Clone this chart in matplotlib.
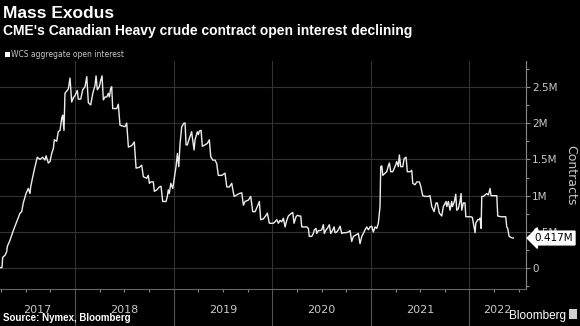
import matplotlib
matplotlib.use("Agg")
import matplotlib.pyplot as plt
import matplotlib.transforms as mtransforms
from matplotlib.patches import Rectangle
from matplotlib.ticker import FixedLocator, FuncFormatter

# Data: WCS aggregate open interest (millions of contracts), time in decimal years
years = [
    2017.239, 2017.259, 2017.266, 2017.290, 2017.307, 2017.313, 2017.341, 2017.374, 2017.408, 2017.442,
    2017.459, 2017.475, 2017.503, 2017.526, 2017.543, 2017.550, 2017.571, 2017.594, 2017.617, 2017.645,
    2017.672, 2017.695, 2017.706, 2017.729, 2017.746, 2017.763, 2017.780, 2017.790, 2017.814, 2017.830,
    2017.848, 2017.865, 2017.875, 2017.888, 2017.898, 2017.915, 2017.932, 2017.949, 2017.966, 2017.983,
    2018.000, 2018.023, 2018.033, 2018.058, 2018.078, 2018.101, 2018.119, 2018.135, 2018.159,
    2018.180, 2018.203, 2018.213, 2018.226, 2018.246, 2018.261, 2018.274, 2018.287, 2018.304, 2018.322,
    2018.338, 2018.348, 2018.362, 2018.372, 2018.382, 2018.423, 2018.439, 2018.456, 2018.507, 2018.524,
    2018.541, 2018.575, 2018.601, 2018.619, 2018.652, 2018.676, 2018.693, 2018.727, 2018.743, 2018.754,
    2018.768, 2018.794, 2018.804, 2018.829, 2018.855, 2018.872, 2018.889, 2018.923, 2018.936, 2018.946,
    2018.956, 2018.971, 2018.991,
    2019.004, 2019.024, 2019.038, 2019.052, 2019.065, 2019.082, 2019.105, 2019.116, 2019.126, 2019.139,
    2019.159, 2019.173, 2019.182, 2019.207, 2019.217, 2019.240, 2019.251, 2019.261, 2019.278, 2019.291,
    2019.318, 2019.342, 2019.362, 2019.376, 2019.397, 2019.420, 2019.437, 2019.453, 2019.488, 2019.521,
    2019.539, 2019.565, 2019.589, 2019.613, 2019.640, 2019.666, 2019.691, 2019.707, 2019.724, 2019.758,
    2019.782, 2019.802, 2019.826, 2019.849, 2019.869, 2019.883, 2019.910, 2019.937, 2019.950, 2019.971,
    2019.978,
    2020.011, 2020.028, 2020.046, 2020.062, 2020.079, 2020.096, 2020.113, 2020.130, 2020.147, 2020.163,
    2020.188, 2020.208, 2020.221, 2020.241, 2020.255, 2020.275, 2020.289, 2020.299, 2020.350, 2020.366,
    2020.376, 2020.401, 2020.417, 2020.427, 2020.444, 2020.451, 2020.468, 2020.485, 2020.502, 2020.518,
    2020.528, 2020.546, 2020.559, 2020.579, 2020.593, 2020.614, 2020.627, 2020.637, 2020.654, 2020.670,
    2020.688, 2020.705, 2020.721, 2020.748, 2020.772, 2020.789, 2020.806, 2020.823, 2020.850, 2020.873,
    2020.890, 2020.908, 2020.924, 2020.941, 2020.958, 2020.975, 2020.992,
    2021.009, 2021.025, 2021.043, 2021.060, 2021.076, 2021.093, 2021.100, 2021.111, 2021.121, 2021.144,
    2021.161, 2021.177, 2021.188, 2021.202, 2021.222, 2021.245, 2021.263, 2021.279, 2021.289, 2021.303,
    2021.324, 2021.337, 2021.357, 2021.370, 2021.398, 2021.415, 2021.425, 2021.448, 2021.466, 2021.492,
    2021.506, 2021.526, 2021.550, 2021.583, 2021.600, 2021.618, 2021.641, 2021.661, 2021.674, 2021.695,
    2021.719, 2021.735, 2021.763, 2021.770, 2021.786, 2021.803, 2021.820, 2021.827, 2021.847, 2021.861,
    2021.871, 2021.887, 2021.904, 2021.915, 2021.922, 2021.938, 2021.955, 2021.963, 2021.989,
    2022.016, 2022.029, 2022.040, 2022.057, 2022.064, 2022.084, 2022.097, 2022.108, 2022.118, 2022.125,
    2022.141, 2022.158, 2022.175, 2022.192, 2022.209, 2022.219, 2022.242, 2022.277, 2022.287, 2022.320,
    2022.354, 2022.368, 2022.378, 2022.388, 2022.402, 2022.429, 2022.445,
]
open_interest = [
    0.01, 0.01, 0.15, 0.18, 0.23, 0.30, 0.39, 0.52, 0.64, 0.76,
    0.78, 0.90, 1.03, 1.10, 1.03, 1.12, 1.26, 1.40, 1.53, 1.50,
    1.53, 1.49, 1.55, 1.45, 1.47, 1.58, 1.65, 1.77, 1.75, 1.88,
    1.90, 2.07, 2.11, 1.90, 2.41, 2.44, 2.47, 2.62, 2.29, 2.35,
    2.38, 2.45, 2.33, 2.33, 2.46, 2.50, 2.64, 2.28, 2.25,
    2.41, 2.52, 2.65, 2.46, 2.50, 2.59, 2.65, 2.32, 2.36, 2.36,
    2.41, 2.36, 2.48, 2.50, 2.20, 2.20, 2.26, 1.97, 1.95, 2.00,
    1.67, 1.69, 1.74, 1.38, 1.39, 1.42, 1.26, 1.24, 1.28, 1.17,
    1.19, 1.19, 1.06, 1.08, 1.12, 1.13, 0.92, 0.92, 0.99, 1.08,
    1.03, 1.17, 1.10,
    1.22, 1.40, 1.58, 1.40, 1.72, 1.95, 2.00, 2.00, 1.70, 1.70,
    1.79, 1.84, 1.88, 1.63, 1.77, 1.88, 1.84, 1.89, 1.90, 1.68,
    1.70, 1.72, 1.77, 1.54, 1.49, 1.49, 1.44, 1.28, 1.28, 1.31,
    1.12, 1.12, 1.17, 0.99, 1.01, 1.03, 1.04, 0.87, 0.92, 0.94,
    0.99, 0.78, 0.78, 0.85, 0.92, 0.67, 0.68, 0.73, 0.76, 0.62,
    0.62,
    0.62, 0.64, 0.67, 0.62, 0.66, 0.64, 0.69, 0.57, 0.66, 0.72,
    0.75, 0.77, 0.62, 0.71, 0.73, 0.72, 0.72, 0.57, 0.57, 0.55,
    0.44, 0.44, 0.48, 0.53, 0.55, 0.48, 0.52, 0.52, 0.53, 0.60,
    0.48, 0.53, 0.55, 0.60, 0.48, 0.53, 0.57, 0.49, 0.50, 0.53,
    0.58, 0.48, 0.49, 0.49, 0.50, 0.52, 0.37, 0.44, 0.46, 0.48,
    0.34, 0.44, 0.48, 0.53, 0.57, 0.53, 0.57,
    0.58, 0.50, 0.57, 0.55, 0.62, 0.85, 1.40, 1.41, 1.28, 1.31,
    1.33, 1.41, 1.45, 1.33, 1.33, 1.40, 1.47, 1.40, 1.56, 1.40,
    1.40, 1.51, 1.53, 1.33, 1.33, 1.35, 1.17, 1.15, 1.19, 1.19,
    1.13, 1.00, 0.99, 0.99, 1.00, 0.85, 0.78, 0.90, 0.90, 0.76,
    0.72, 0.85, 0.92, 0.85, 0.92, 0.80, 0.92, 0.85, 0.92, 1.02,
    0.80, 0.82, 0.92, 1.03, 0.80, 0.90, 0.90, 0.71, 0.71,
    0.71, 0.70, 0.62, 0.49, 0.62, 0.67, 0.67, 0.69, 0.55, 0.99,
    0.99, 1.01, 1.03, 1.01, 1.10, 1.00, 1.00, 1.00, 0.72, 0.71,
    0.71, 0.71, 0.57, 0.55, 0.44, 0.42, 0.417,
]
last_value = 0.417
year_labels = ['2017', '2018', '2019', '2020', '2021', '2022']
year_starts = [2018, 2019, 2020, 2021, 2022]

x_min, x_max = 2017.239, 2022.574
y_min, y_max = -0.285, 2.855

narrow = ['Liberation Sans Narrow', 'DejaVu Sans']
grid_c = '#333333'
axis_c = '#8a8a8a'
label_c = '#c8c8c8'

fig = plt.figure(figsize=(5.8, 3.26), dpi=100, facecolor='black')
ax = fig.add_axes([0.0, 0.1135, 0.907, 0.6994], facecolor='black')

ax.plot(years, open_interest, color='#ededed', lw=1.0, zorder=3)

ax.set_xlim(x_min, x_max)
ax.set_ylim(y_min, y_max)

# y axis on the right
ax.yaxis.tick_right()
ax.yaxis.set_major_locator(FixedLocator([0, 0.5, 1, 1.5, 2, 2.5]))
ax.yaxis.set_minor_locator(FixedLocator([-0.25, 0.25, 0.75, 1.25, 1.75, 2.25, 2.75]))
ax.yaxis.set_major_formatter(FuncFormatter(lambda v, p: '0' if v == 0 else f'{v:g}M'))
ax.tick_params(axis='y', which='both', direction='out', color=axis_c, width=0.8,
               labelcolor=label_c, labelsize=7.5, pad=1.5)
ax.tick_params(axis='y', which='major', length=3)
ax.tick_params(axis='y', which='minor', length=2)
for lab in ax.get_yticklabels():
    lab.set_family(narrow)

# x axis: long year separators and quarter ticks
ax.xaxis.set_major_locator(FixedLocator(year_starts))
quarters = [y + q for y in range(2017, 2023) for q in (0.25, 0.5, 0.75)]
ax.xaxis.set_minor_locator(FixedLocator([q for q in quarters if x_min < q < x_max]))
ax.tick_params(axis='x', which='major', direction='out', length=27, color='#555555',
               width=0.8, labelbottom=False)
ax.tick_params(axis='x', which='minor', direction='out', length=2.5, color=axis_c, width=0.8)

ax.grid(axis='both', which='major', color=grid_c, lw=0.8, zorder=0)

for side in ['top', 'left']:
    ax.spines[side].set_visible(False)
ax.spines['right'].set_color(axis_c)
ax.spines['bottom'].set_color('#666666')
ax.spines['right'].set_linewidth(0.8)
ax.spines['bottom'].set_linewidth(0.8)

# year labels centred in the visible part of each year
trans = mtransforms.blended_transform_factory(ax.transData, ax.transAxes)
edges = [x_min] + year_starts + [x_max]
for lab, a, b in zip(year_labels, edges[:-1], edges[1:]):
    ax.text((a + b) / 2, -0.09, lab, transform=trans, ha='center', va='center',
            color=label_c, fontsize=8, family=narrow)

ax.set_ylabel('Contracts', color=label_c, fontsize=9, family=narrow, rotation=270,
              labelpad=14)
ax.yaxis.set_label_position('right')

# last value tag
tag_trans = mtransforms.blended_transform_factory(ax.transAxes, ax.transData)
ax.text(1.016, last_value, f'{last_value:.3f}M', transform=tag_trans, ha='left', va='center',
        fontsize=7.5, color='black', family=narrow, clip_on=False, zorder=10,
        bbox=dict(boxstyle='larrow,pad=0.18', fc='white', ec='white'))

# titles and legend
fig.text(0.005, 0.959, 'Mass Exodus', color='white', fontsize=12.5, fontweight='bold',
         family='Liberation Sans', va='center', ha='left')
fig.text(0.005, 0.905, "CME's Canadian Heavy crude contract open interest declining",
         color='white', fontsize=10, fontweight='bold', family='Liberation Sans',
         va='center', ha='left')
fig.patches.append(Rectangle((0.008, 0.826), 0.0085, 0.015, transform=fig.transFigure,
                             fc='white', ec='none'))
fig.text(0.019, 0.834, 'WCS aggregate open interest', color=label_c, fontsize=5.5,
         family=narrow, va='center', ha='left')

fig.text(0.006, 0.009, 'Source: Nymex, Bloomberg', color='white', fontsize=7,
         fontweight='bold', family='Liberation Sans', va='bottom', ha='left')
fig.text(0.975, 0.012, 'Bloomberg', color='white', fontsize=8.5, family='Liberation Sans',
         va='bottom', ha='right')
fig.patches.append(Rectangle((0.981, 0.02), 0.014, 0.032, transform=fig.transFigure,
                             fc='#d0d0d0', ec='none'))

fig.savefig('out.png', dpi=100, facecolor='black')
